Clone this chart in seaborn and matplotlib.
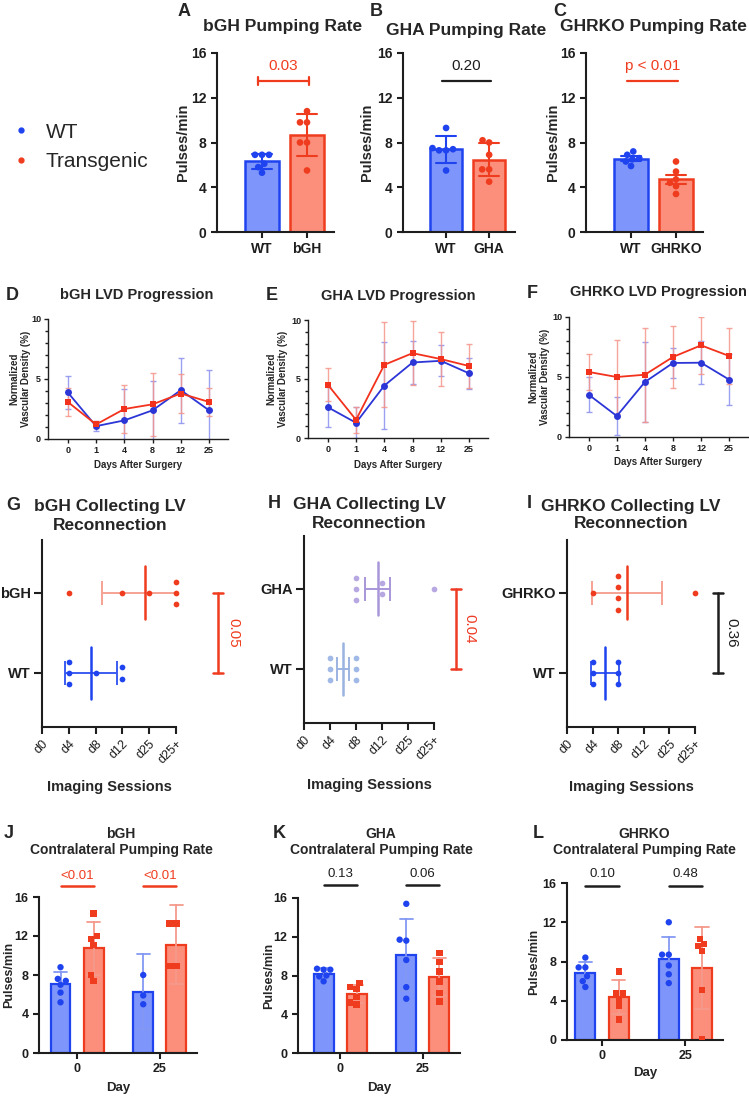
import numpy as np
import pandas as pd
import seaborn as sns
import matplotlib.pyplot as plt
from matplotlib.colors import to_hex
from matplotlib.lines import Line2D
from matplotlib.ticker import AutoMinorLocator

W, H = 749, 1096

# A-C: pumping rate (pulses/min), one list of animals per group
pump_names = ["bGH", "GHA", "GHRKO"]
pump_wt = [[6.9, 6.9, 6.9, 6.1, 5.8, 5.3],
           [9.3, 7.5, 7.4, 7.3, 7.3, 5.5],
           [7.2, 6.9, 6.6, 6.5, 6.3, 5.9]]
pump_tg = [[10.8, 9.8, 9.8, 8.0, 8.0, 5.5],
           [8.2, 8.0, 6.9, 5.6, 5.6, 4.5],
           [6.3, 5.4, 4.7, 4.4, 4.1, 3.4]]
pump_err = ["sd", "sd", "sem"]
pump_p = ["0.03", "0.20", "p < 0.01"]
pump_sig = [True, False, True]

# D-F: normalized vascular density (%), mean and sd per day
lvd_days = ["0", "1", "4", "8", "12", "25"]
lvd_wt_mean = [[3.88, 1.07, 1.55, 2.39, 4.07, 2.39],
               [2.61, 1.29, 4.44, 6.40, 6.54, 5.48],
               [3.53, 1.75, 4.58, 6.17, 6.19, 4.78]]
lvd_wt_sd = [[1.35, 0.40, 2.60, 2.45, 2.70, 3.40],
             [1.70, 1.30, 3.70, 1.80, 1.30, 1.30],
             [1.43, 1.60, 3.30, 1.25, 1.80, 2.10]]
lvd_tg_mean = [[3.09, 1.21, 2.50, 2.89, 3.79, 3.09],
               [4.52, 1.54, 6.20, 7.19, 6.69, 6.10],
               [5.42, 5.00, 5.19, 6.67, 7.64, 6.75]]
lvd_tg_sd = [[1.15, 0.30, 2.00, 2.64, 1.60, 1.20],
             [1.40, 1.10, 3.60, 2.70, 2.30, 1.90],
             [1.50, 3.10, 3.90, 2.60, 2.40, 2.30]]

# G-I: imaging session at which the collecting LV reconnected
sessions = ["d0", "d4", "d8", "d12", "d25", "d25+"]
recon_wt = [["d4", "d4", "d4", "d8", "d12", "d12"],
            ["d4", "d4", "d4", "d8", "d8", "d8"],
            ["d4", "d4", "d4", "d8", "d8", "d8"]]
recon_tg = [["d4", "d12", "d25", "d25+", "d25+", "d25+"],
            ["d8", "d8", "d8", "d12", "d12", "d25+"],
            ["d4", "d8", "d8", "d8", "d8", "d25+"]]
recon_err = ["sd", "sem", "sd"]
recon_p = ["0.05", "0.04", "0.36"]

# J-L: contralateral pumping rate, [day 0, day 25]
contra_days = ["0", "25"]
bgh_contra_wt = [[8.8, 7.6, 7.4, 7.0, 6.2, 5.2], [8.0, 5.9, 5.0]]
bgh_contra_tg = [[14.3, 12.0, 11.7, 11.1, 8.0, 7.4], [13.3, 13.3, 8.9, 8.9]]
gha_contra_wt = [[8.7, 8.6, 8.6, 8.0, 7.9, 7.4], [15.4, 11.7, 11.6, 9.6, 6.8, 5.6]]
gha_contra_tg = [[7.2, 6.8, 6.6, 5.8, 5.2, 5.0], [10.3, 9.4, 8.4, 7.4, 6.2, 5.3]]
ghrko_contra_wt = [[8.4, 7.4, 7.4, 6.5, 6.0, 5.4], [12.0, 8.7, 8.7, 7.6, 6.7, 5.8]]
ghrko_contra_tg = [[7.0, 4.8, 4.8, 4.2, 3.5, 2.1], [10.3, 9.8, 9.6, 9.1, 5.1, 0.1]]
contra_p = [["<0.01", "<0.01"], ["0.13", "0.06"], ["0.10", "0.48"]]
contra_sig = [True, False, False]

BLUE, BLUE_FILL, BLUE_ERR = "#1f43ee", "#7e96fb", "#8398f3"
RED, RED_FILL, RED_ERR = "#f03c1e", "#fb8f7b", "#f59a8b"
INK = "#1e1e1e"
EDGE = {BLUE_FILL: BLUE, RED_FILL: RED}
T95 = {3: 4.303, 4: 3.182, 5: 2.776, 6: 2.571}

sns.set_theme(style="ticks")
plt.rcParams["font.family"] = ["Liberation Sans", "DejaVu Sans"]
plt.rcParams.update({"axes.linewidth": 1.5, "axes.edgecolor": INK,
                     "xtick.major.width": 1.5, "ytick.major.width": 1.5,
                     "xtick.color": INK, "ytick.color": INK,
                     "xtick.major.size": 4, "ytick.major.size": 4})

fig = plt.figure(figsize=(W / 100, H / 100), dpi=100)


def add_ax(l, t, r, b):
    return fig.add_axes([l / W, 1 - b / H, (r - l) / W, (b - t) / H])


def put(x, y, s, size, bold=True, **kw):
    fig.text(x / W, 1 - y / H, s, fontsize=size, fontweight="bold" if bold else "normal",
             ha="center", va="center", **kw)


def ylab(ax, text, x, size):
    box = ax.get_position()
    ax.set_ylabel(text, fontsize=size, fontweight="bold", va="center", ha="center")
    ax.yaxis.set_label_coords(x / W, box.y0 + box.height / 2, transform=fig.transFigure)


def xlab(ax, text, y, size):
    box = ax.get_position()
    ax.set_xlabel(text, fontsize=size, fontweight="bold", va="center")
    ax.xaxis.set_label_coords(box.x0 + box.width / 2, 1 - y / H, transform=fig.transFigure)


def spread(v, kind):
    v = np.asarray(v, dtype=float)
    sd = v.std(ddof=1)
    if kind == "sd":
        return sd
    sem = sd / np.sqrt(len(v))
    return sem if kind == "sem" else T95[len(v)] * sem


def interval(kind):
    return lambda v: (np.mean(v) - spread(v, kind), np.mean(v) + spread(v, kind))


# ---------------- legend
handles = [Line2D([], [], ls="", marker="o", ms=3.5, color=BLUE),
           Line2D([], [], ls="", marker="o", ms=3.5, color=RED)]
fig.legend(handles, ["WT", "Transgenic"], loc="upper left", bbox_to_anchor=(0.0, 1 - 108 / H),
           frameon=False, fontsize=15, handlelength=0.6, handletextpad=0.9, labelspacing=0.5,
           borderaxespad=0.3)

# ---------------- A-C
pump_boxes = [(217, 53, 334, 232), (403, 53, 515, 232), (586, 53, 703, 232)]
pump_titles = [(283, 26), (466, 31), (653, 27)]
pump_letters = [("A", 184, 12), ("B", 376, 12), ("C", 560, 12)]
pump_ylab_x = [183, 367, 553]
pump_caps = [True, False, False]

for i, name in enumerate(pump_names):
    ax = add_ax(*pump_boxes[i])
    order = ["WT", name]
    df = pd.DataFrame({"group": ["WT"] * len(pump_wt[i]) + [name] * len(pump_tg[i]),
                       "rate": pump_wt[i] + pump_tg[i]})
    sns.barplot(df, x="group", y="rate", hue="group", order=order, hue_order=order,
                palette=[BLUE_FILL, RED_FILL], saturation=1, errorbar=None, width=0.75,
                linewidth=1.8, legend=False, ax=ax)
    for bar in ax.patches:
        bar.set_edgecolor(EDGE[to_hex(bar.get_facecolor())])
    sns.pointplot(df, x="group", y="rate", hue="group", order=order, hue_order=order,
                  palette=[BLUE, RED], errorbar=interval(pump_err[i]), capsize=0.45,
                  markers="", linestyles="none", err_kws={"linewidth": 1.5}, legend=False, ax=ax)
    sns.swarmplot(df, x="group", y="rate", hue="group", order=order, hue_order=order,
                  palette=[BLUE, RED], size=4.8, legend=False, ax=ax, zorder=4)
    ax.set_xlim(-1, 1.6)
    ax.set_ylim(0, 16)
    ax.set_yticks([0, 4, 8, 12, 16])
    ax.tick_params(labelsize=10)
    for t in ax.get_xticklabels() + ax.get_yticklabels():
        t.set_fontweight("bold")
    ax.set_xlabel("")
    ylab(ax, "Pulses/min", pump_ylab_x[i], 10.5)
    col = RED if pump_sig[i] else INK
    ax.plot([-0.1, 1.05], [13.5, 13.5], color=col, lw=1.6, clip_on=False)
    if pump_caps[i]:
        for xe in (-0.1, 1.05):
            ax.plot([xe, xe], [13.15, 13.85], color=col, lw=1.6)
    ax.text(0.475, 14.8, pump_p[i], color=col, fontsize=11, ha="center", va="center")
    put(*pump_titles[i], f"{name} Pumping Rate", 12.5)
    put(pump_letters[i][1], pump_letters[i][2], pump_letters[i][0], 13)

# ---------------- D-F
lvd_boxes = [(48, 319, 228, 439), (308, 320, 488, 438), (569, 317, 748, 437)]
lvd_titles = [(137, 295), (398, 296), (658, 292)]
lvd_letters = [("D", 12, 295), ("E", 272, 295), ("F", 532, 293)]
lvd_ylab_x = [20, 277, 539]
lvd_xlab_y = [465, 465, 462]

for i, name in enumerate(pump_names):
    ax = add_ax(*lvd_boxes[i])
    for mean, sd, c, ce in [(lvd_wt_mean[i], lvd_wt_sd[i], BLUE, "#8b90ee"),
                            (lvd_tg_mean[i], lvd_tg_sd[i], RED, "#f5958a")]:
        ax.errorbar(lvd_days, mean, yerr=sd, fmt="none", ecolor=ce, elinewidth=1.0,
                    capsize=2.5, capthick=1.0, alpha=0.85)
    sns.lineplot(x=lvd_days, y=lvd_wt_mean[i], color="#2c35d6", marker="o", markersize=5,
                 markeredgewidth=0, linewidth=1.3, sort=False, ax=ax)
    sns.lineplot(x=lvd_days, y=lvd_tg_mean[i], color="#f2321c", marker="s", markersize=5,
                 markeredgewidth=0, linewidth=1.3, sort=False, ax=ax)
    ax.set_xlim(-0.7, 5.67)
    ax.set_ylim(0, 10)
    ax.set_yticks([0, 5, 10])
    ax.yaxis.set_minor_locator(AutoMinorLocator(5))
    ax.tick_params(which="both", width=1.0, labelsize=6.5, pad=2)
    ax.tick_params(which="major", length=3)
    ax.tick_params(which="minor", length=2)
    for s in ax.spines.values():
        s.set_linewidth(1.0)
    for t in ax.get_xticklabels() + ax.get_yticklabels():
        t.set_fontweight("bold")
    ylab(ax, "Normalized\nVascular Density (%)", lvd_ylab_x[i], 7)
    xlab(ax, "Days After Surgery", lvd_xlab_y[i], 7)
    put(*lvd_titles[i], f"{name} LVD Progression", 10.5)
    put(lvd_letters[i][1], lvd_letters[i][2], lvd_letters[i][0], 13)

# ---------------- G-I
recon_boxes = [(42, 540, 176, 727), (304, 536, 434, 723), (567, 540, 695, 727)]
recon_titles = [(110, 516), (369, 514), (631, 515)]
recon_letters = [("G", 13, 505), ("H", 274, 503), ("I", 529, 503)]
recon_xlab_y = [787, 785, 787]
recon_p_px = [(218, 233), (456, 469), (718, 731)]
recon_p_col = [RED, "#ee3b25", INK]
# (dot colour, mean line colour, spread line colour) for WT row then transgenic row
recon_cols = [[(BLUE, BLUE, "#3a5cf0"), (RED, RED, "#f5a293")],
              [("#a0b9e6", "#9bb3e0", "#9bb3e0"), ("#b8a8e2", "#a896d9", "#a896d9")],
              [(BLUE, BLUE, "#3a5cf0"), (RED, RED, "#f5a293")]]

for i, name in enumerate(pump_names):
    l, t, r, b = recon_boxes[i]
    ax = add_ax(l, t, r, b)
    for row, sess, (dot, mc, ec) in [(0, recon_wt[i], recon_cols[i][0]),
                                     (1, recon_tg[i], recon_cols[i][1])]:
        idx = np.array([sessions.index(s) for s in sess], dtype=float)
        ys = np.zeros(len(idx))
        for v in np.unique(idx):
            k = int(np.sum(idx == v))
            ys[idx == v] = row + (np.arange(k) - (k - 1) / 2) * 0.14
        sns.scatterplot(x=idx, y=ys, color=dot, s=17, linewidth=0, clip_on=False, ax=ax, zorder=3)
        m, e = idx.mean(), spread(idx, recon_err[i])
        ax.errorbar(m, row, xerr=e, fmt="none", ecolor=ec, elinewidth=1.4, capsize=8.5,
                    capthick=1.4, zorder=2)
        ax.plot([m, m], [row - 0.33, row + 0.33], color=mc, lw=1.8, zorder=2)
    ax.set_xlim(0, 5)
    ax.set_ylim(-0.675, 1.66)
    ax.set_yticks([0, 1], ["WT", name], fontsize=10.5, fontweight="bold")
    ax.set_xticks(range(len(sessions)), sessions, fontsize=9, rotation=45, ha="right",
                  rotation_mode="anchor")
    ax.tick_params(axis="x", length=5, pad=3)
    ax.tick_params(axis="y", length=6, pad=2)
    xlab(ax, "Imaging Sessions", recon_xlab_y[i], 10.5)
    trans = ax.get_yaxis_transform()
    px0, px1 = recon_p_px[i]
    xf, xt = (px0 - l) / (r - l), (px1 - l) / (r - l)
    dx = 5 / (r - l)
    col = recon_p_col[i]
    ax.plot([xf, xf], [0, 1], color=col, lw=1.8, transform=trans, clip_on=False)
    for yv in (0, 1):
        ax.plot([xf - dx, xf + dx], [yv, yv], color=col, lw=1.8, transform=trans, clip_on=False)
    ax.text(xt, 0.5, recon_p[i], color=col, fontsize=11, rotation=-90, ha="center",
            va="center", transform=trans)
    put(*recon_titles[i], f"{name} Collecting LV\nReconnection", 12.5, linespacing=1.25)
    put(recon_letters[i][1], recon_letters[i][2], recon_letters[i][0], 13)

# ---------------- J-L
contra_wt = [bgh_contra_wt, gha_contra_wt, ghrko_contra_wt]
contra_tg = [bgh_contra_tg, gha_contra_tg, ghrko_contra_tg]
contra_boxes = [(39, 897, 197, 1053), (298, 898, 460, 1053), (567, 883, 723, 1040)]
contra_xlim = [(-0.46, 1.45), (-0.51, 1.45), (-0.42, 1.45)]
contra_titles = [(121, 842), (381, 842), (644, 842)]
contra_letters = [("J", 9, 833), ("K", 279, 833), ("L", 538, 833)]
contra_ylab_x = [9, 269, 534]
contra_xlab_y = [1088, 1088, 1073]
contra_p_y = [(17.1, 18.2), (17.3, 18.5), (15.7, 16.9)]

for i, name in enumerate(pump_names):
    ax = add_ax(*contra_boxes[i])
    rows = []
    for day, vals in zip(contra_days, contra_wt[i]):
        rows += [(day, "WT", v) for v in vals]
    for day, vals in zip(contra_days, contra_tg[i]):
        rows += [(day, "Tg", v) for v in vals]
    df = pd.DataFrame(rows, columns=["day", "geno", "rate"])
    hue_order = ["WT", "Tg"]
    sns.barplot(df, x="day", y="rate", hue="geno", order=contra_days, hue_order=hue_order,
                palette=[BLUE_FILL, RED_FILL], saturation=1, errorbar=None, width=0.8,
                gap=0.4, linewidth=1.6, legend=False, ax=ax)
    for bar in ax.patches:
        bar.set_edgecolor(EDGE[to_hex(bar.get_facecolor())])
    centers = sorted(bar.get_x() + bar.get_width() / 2 for bar in ax.patches)
    sns.pointplot(df, x="day", y="rate", hue="geno", order=contra_days, hue_order=hue_order,
                  palette=[BLUE_ERR, RED_ERR], errorbar=interval("ci"), capsize=0.16,
                  dodge=0.4, markers="", linestyles="none", err_kws={"linewidth": 1.3},
                  legend=False, ax=ax)
    for geno, mk in [("WT", "o"), ("Tg", "s")]:
        sns.swarmplot(df[df["geno"] == geno], x="day", y="rate", hue="geno", order=contra_days,
                      hue_order=hue_order, palette=[BLUE, RED], dodge=True,
                      size=4.6, marker=mk, legend=False, ax=ax, zorder=4)
    ax.set_xlim(*contra_xlim[i])
    ax.set_ylim(0, 16)
    ax.set_yticks([0, 4, 8, 12, 16])
    ax.tick_params(labelsize=9)
    for t in ax.get_xticklabels() + ax.get_yticklabels():
        t.set_fontweight("bold")
    ylab(ax, "Pulses/min", contra_ylab_x[i], 9)
    xlab(ax, "Day", contra_xlab_y[i], 9.5)
    col = RED if contra_sig[i] else INK
    ly, ty = contra_p_y[i]
    for k, p in enumerate(contra_p[i]):
        x0, x1 = centers[2 * k], centers[2 * k + 1]
        ax.plot([x0, x1], [ly, ly], color=col, lw=1.8, clip_on=False)
        ax.text((x0 + x1) / 2, ty, p, color=col, fontsize=9.5, ha="center", va="center")
    put(*contra_titles[i], f"{name}\nContralateral Pumping Rate", 10, linespacing=1.25)
    put(contra_letters[i][1], contra_letters[i][2], contra_letters[i][0], 13)

sns.despine(fig=fig)
fig.savefig("out.png", dpi=100)
